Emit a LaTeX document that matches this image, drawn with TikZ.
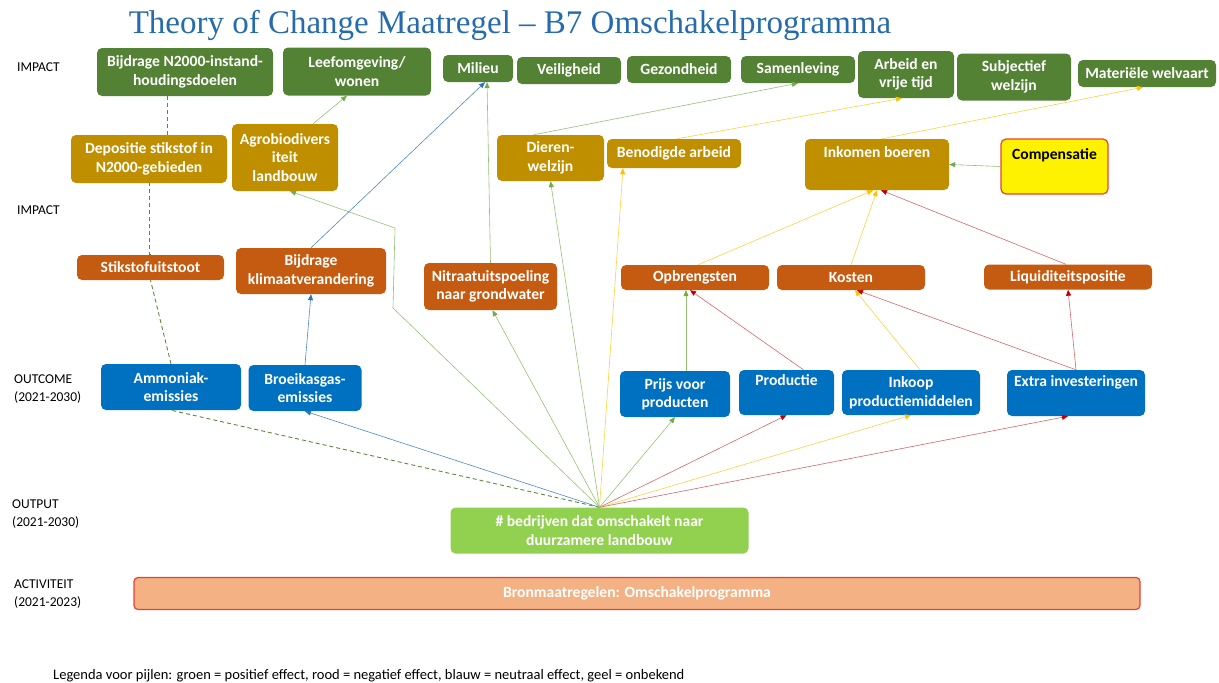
\documentclass[tikz,border=0pt]{standalone}
\usepackage{fontspec}
\setmainfont{Carlito}
\newfontfamily\titlefont{Liberation Serif}
\usepackage{tikz}
\usetikzlibrary{arrows.meta,calc}

\definecolor{impgreen}{RGB}{84,130,53}
\definecolor{effgold}{RGB}{191,143,0}
\definecolor{resorange}{RGB}{197,90,17}
\definecolor{outblue}{RGB}{0,112,192}
\definecolor{outputgreen}{RGB}{146,208,80}
\definecolor{actfill}{RGB}{244,177,131}
\definecolor{actline}{RGB}{232,64,50}
\definecolor{titleblue}{RGB}{38,107,171}
\definecolor{posgreen}{RGB}{112,173,71}
\definecolor{neutblue}{RGB}{46,117,182}
\definecolor{negred}{RGB}{192,0,0}
\definecolor{unkyellow}{RGB}{255,192,0}

\tikzset{
  box/.style={rounded corners=5pt, text=white, inner sep=0pt, align=center,
    font=\bfseries\fontsize{15.6}{18.5}\selectfont},
  impact/.style={box, fill=impgreen},
  effect/.style={box, fill=effgold},
  result/.style={box, fill=resorange},
  outcome/.style={box, fill=outblue},
  sidelabel/.style={anchor=west, align=left, inner sep=0pt,
    font=\fontsize{13.5}{18}\selectfont},
  poslink/.style={draw=posgreen!75!white, line width=0.6pt,
    -{Triangle[length=6pt,width=5pt,color=posgreen]}},
  neutlink/.style={draw=neutblue!85!white, line width=0.6pt,
    -{Triangle[length=6pt,width=5pt,color=neutblue]}},
  neglink/.style={draw=negred!60!white, line width=0.6pt,
    -{Triangle[length=6pt,width=5pt,color=negred]}},
  unklink/.style={draw=unkyellow!75!white, line width=0.6pt,
    -{Triangle[length=6pt,width=5pt,color=unkyellow]}},
  dashlink/.style={draw=posgreen!80!black, line width=0.9pt, dash pattern=on 4pt off 3pt}
}

\begin{document}
\begin{tikzpicture}[x=1pt,y=-1pt]
  %%%%% START %%%%%
  \useasboundingbox (0,0) rectangle (1219,683);

  \node[font=\titlefont\fontsize{33}{36}\selectfont, text=titleblue, inner sep=0pt] (title) at (510,25)
    {Theory of Change Maatregel – B7 Omschakelprogramma};

  % side labels
  \node[sidelabel] (lbimpact) at (17,67) {IMPACT};
  \node[sidelabel] (lbeffect) at (17,210) {IMPACT};
  \node[sidelabel] (lboutcome) at (14,389) {OUTCOME\\(2021-2030)};
  \node[sidelabel] (lboutput) at (12,514) {OUTPUT\\(2021-2030)};
  \node[sidelabel] (lbactiv) at (14,594) {ACTIVITEIT\\(2021-2023)};

  % impact row
  \node[impact, minimum width=176, minimum height=48] (n2000) at (185,72) {Bijdrage N2000-instand-\\houdingsdoelen};
  \node[impact, minimum width=148, minimum height=48] (leef) at (357,71.5) {Leefomgeving/\\wonen};
  \node[impact, minimum width=70, minimum height=27] (milieu) at (478,68.5) {Milieu};
  \node[impact, minimum width=104, minimum height=27] (veilig) at (569,70.5) {Veiligheid};
  \node[impact, minimum width=104, minimum height=27] (gezond) at (679,69.5) {Gezondheid};
  \node[impact, minimum width=114, minimum height=27] (samen) at (798,69.5) {Samenleving};
  \node[impact, minimum width=96, minimum height=47] (vrijetijd) at (906,74.5) {Arbeid en\\vrije tijd};
  \node[impact, minimum width=114, minimum height=47] (subj) at (1014,77) {Subjectief\\welzijn};
  \node[impact, minimum width=138, minimum height=27] (welvaart) at (1147,73.5) {Materiële welvaart};

  % effect row
  \node[effect, minimum width=156, minimum height=48] (depositie) at (149,159) {Depositie stikstof in\\N2000-gebieden};
  \node[effect, minimum width=106, minimum height=67] (agro) at (285,157.5) {Agrobiodivers\\iteit\\landbouw};
  \node[effect, minimum width=107, minimum height=46] (dieren) at (550.5,158) {Dieren-\\welzijn};
  \node[effect, minimum width=134, minimum height=29] (benodigd) at (674,153.5) {Benodigde arbeid};
  \node[effect, minimum width=144, minimum height=51] (inkomen) at (877,164.5) {Inkomen boeren\\\strut};
  \node[box, fill=yellow, draw=actline, line width=1.2pt, text=black, minimum width=107, minimum height=55]
    (compensatie) at (1054.5,166.5) {Compensatie\\\strut};

  % result row
  \node[result, minimum width=147, minimum height=25] (stikstof) at (150.5,267.5) {Stikstofuitstoot};
  \node[result, minimum width=150, minimum height=46] (klimaat) at (311,271) {Bijdrage\\klimaatverandering};
  \node[result, minimum width=133, minimum height=47] (nitraat) at (490.5,286.5) {Nitraatuitspoeling\\naar grondwater};
  \node[result, minimum width=148, minimum height=25] (opbrengst) at (695,277.5) {Opbrengsten};
  \node[result, minimum width=148, minimum height=25] (kosten) at (851,277.5) {Kosten};
  \node[result, minimum width=168, minimum height=25] (liquid) at (1068,277) {Liquiditeitspositie};

  % outcome row
  \node[outcome, minimum width=140, minimum height=46] (ammoniak) at (171,387) {Ammoniak-\\emissies};
  \node[outcome, minimum width=113, minimum height=46] (broeikas) at (305,388) {Broeikasgas-\\emissies};
  \node[outcome, minimum width=110, minimum height=46] (prijs) at (675,394) {Prijs voor\\producten};
  \node[outcome, minimum width=95, minimum height=45] (productie) at (786.5,392.5) {Productie\\\strut};
  \node[outcome, minimum width=138, minimum height=45] (inkoop) at (911,392.5) {Inkoop\\productiemiddelen};
  \node[outcome, minimum width=138, minimum height=46] (extra) at (1076,393) {Extra investeringen\\\strut};

  % output and activity
  \node[box, fill=outputgreen, minimum width=298, minimum height=46] (output) at (599.5,530.5)
    {\# bedrijven dat omschakelt naar\\duurzamere landbouw};
  \node[box, fill=actfill, draw=actline, line width=1.2pt, rounded corners=4pt, minimum width=1006, minimum height=32]
    (activiteit) at (637,593.5) {Bronmaatregelen: Omschakelprogramma};

  % legend
  \node[sidelabel, font=\fontsize{14.5}{16}\selectfont] (legenda) at (53,676)
    {Legenda voor pijlen: groen = positief effect, rood = negatief effect, blauw = neutraal effect, geel = onbekend};

  % bends of the line to agrobiodiversiteit
  \coordinate (bendlow) at (393,308);
  \coordinate (bendhigh) at (395,228);

  % connectors from output
  \draw[dashlink] (output.north) -- (ammoniak.south);
  \draw[neutlink] (output.north) -- (broeikas.south);
  \draw[poslink] (output.north) -- (bendlow) -- (bendhigh) -- ([xshift=5pt]agro.south);
  \draw[poslink] (output.north) -- ([xshift=2pt]nitraat.south);
  \draw[poslink] (output.north) -- (dieren.south);
  \draw[unklink] (output.north) -- ([xshift=-51pt]benodigd.south);
  \draw[poslink] (output.north) -- (prijs.south);
  \draw[neglink] (output.north) -- (productie.south);
  \draw[unklink] (output.north) -- (inkoop.south);
  \draw[neglink] (output.north) -- ([xshift=-8pt]extra.south);

  % nitrogen chain
  \draw[dashlink] (ammoniak.north) -- (stikstof.south);
  \draw[dashlink] (stikstof.north) -- (depositie.north |- stikstof.north) -- (depositie.south);
  \draw[dashlink] ([xshift=-18pt]n2000.south) -- ([xshift=-18pt]n2000.south |- depositie.north);

  % climate and water
  \draw[neutlink] (broeikas.north) -- (klimaat.south);
  \draw[neutlink] (klimaat.north) -- ([xshift=7pt]milieu.south);
  \draw[poslink] (nitraat.north) -- ([xshift=9pt]milieu.south);
  \draw[poslink] ([xshift=28pt]agro.north) -- ([xshift=-10pt]leef.south);
  \draw[poslink] ([xshift=-17pt]dieren.north) -- (samen.south);
  \draw[unklink] ([xshift=3pt]benodigd.north) -- ([xshift=-4pt]vrijetijd.south);

  % farm income
  \draw[unklink] ([xshift=5pt]inkomen.north) -- ([xshift=-4pt]welvaart.south);
  \draw[poslink] (compensatie.west) -- (inkomen.east);
  \draw[unklink] ([xshift=3pt]opbrengst.north) -- ([xshift=-4pt]inkomen.south);
  \draw[unklink] (kosten.north) -- (inkomen.south);
  \draw[neglink] ([xshift=-2pt]liquid.north) -- ([xshift=4pt]inkomen.south);
  \draw[poslink] ([xshift=11pt]prijs.north) -- ([xshift=-9pt]opbrengst.south);
  \draw[neglink] ([xshift=17pt]productie.north) -- ([xshift=-5pt]opbrengst.south);
  \draw[unklink] ([xshift=9pt]inkoop.north) -- ([xshift=4pt]kosten.south);
  \draw[neglink] (extra.north) -- ([xshift=6pt]kosten.south);
  \draw[neglink] (extra.north) -- (liquid.south);
  %%%%% END %%%%%
\end{tikzpicture}
\end{document}
